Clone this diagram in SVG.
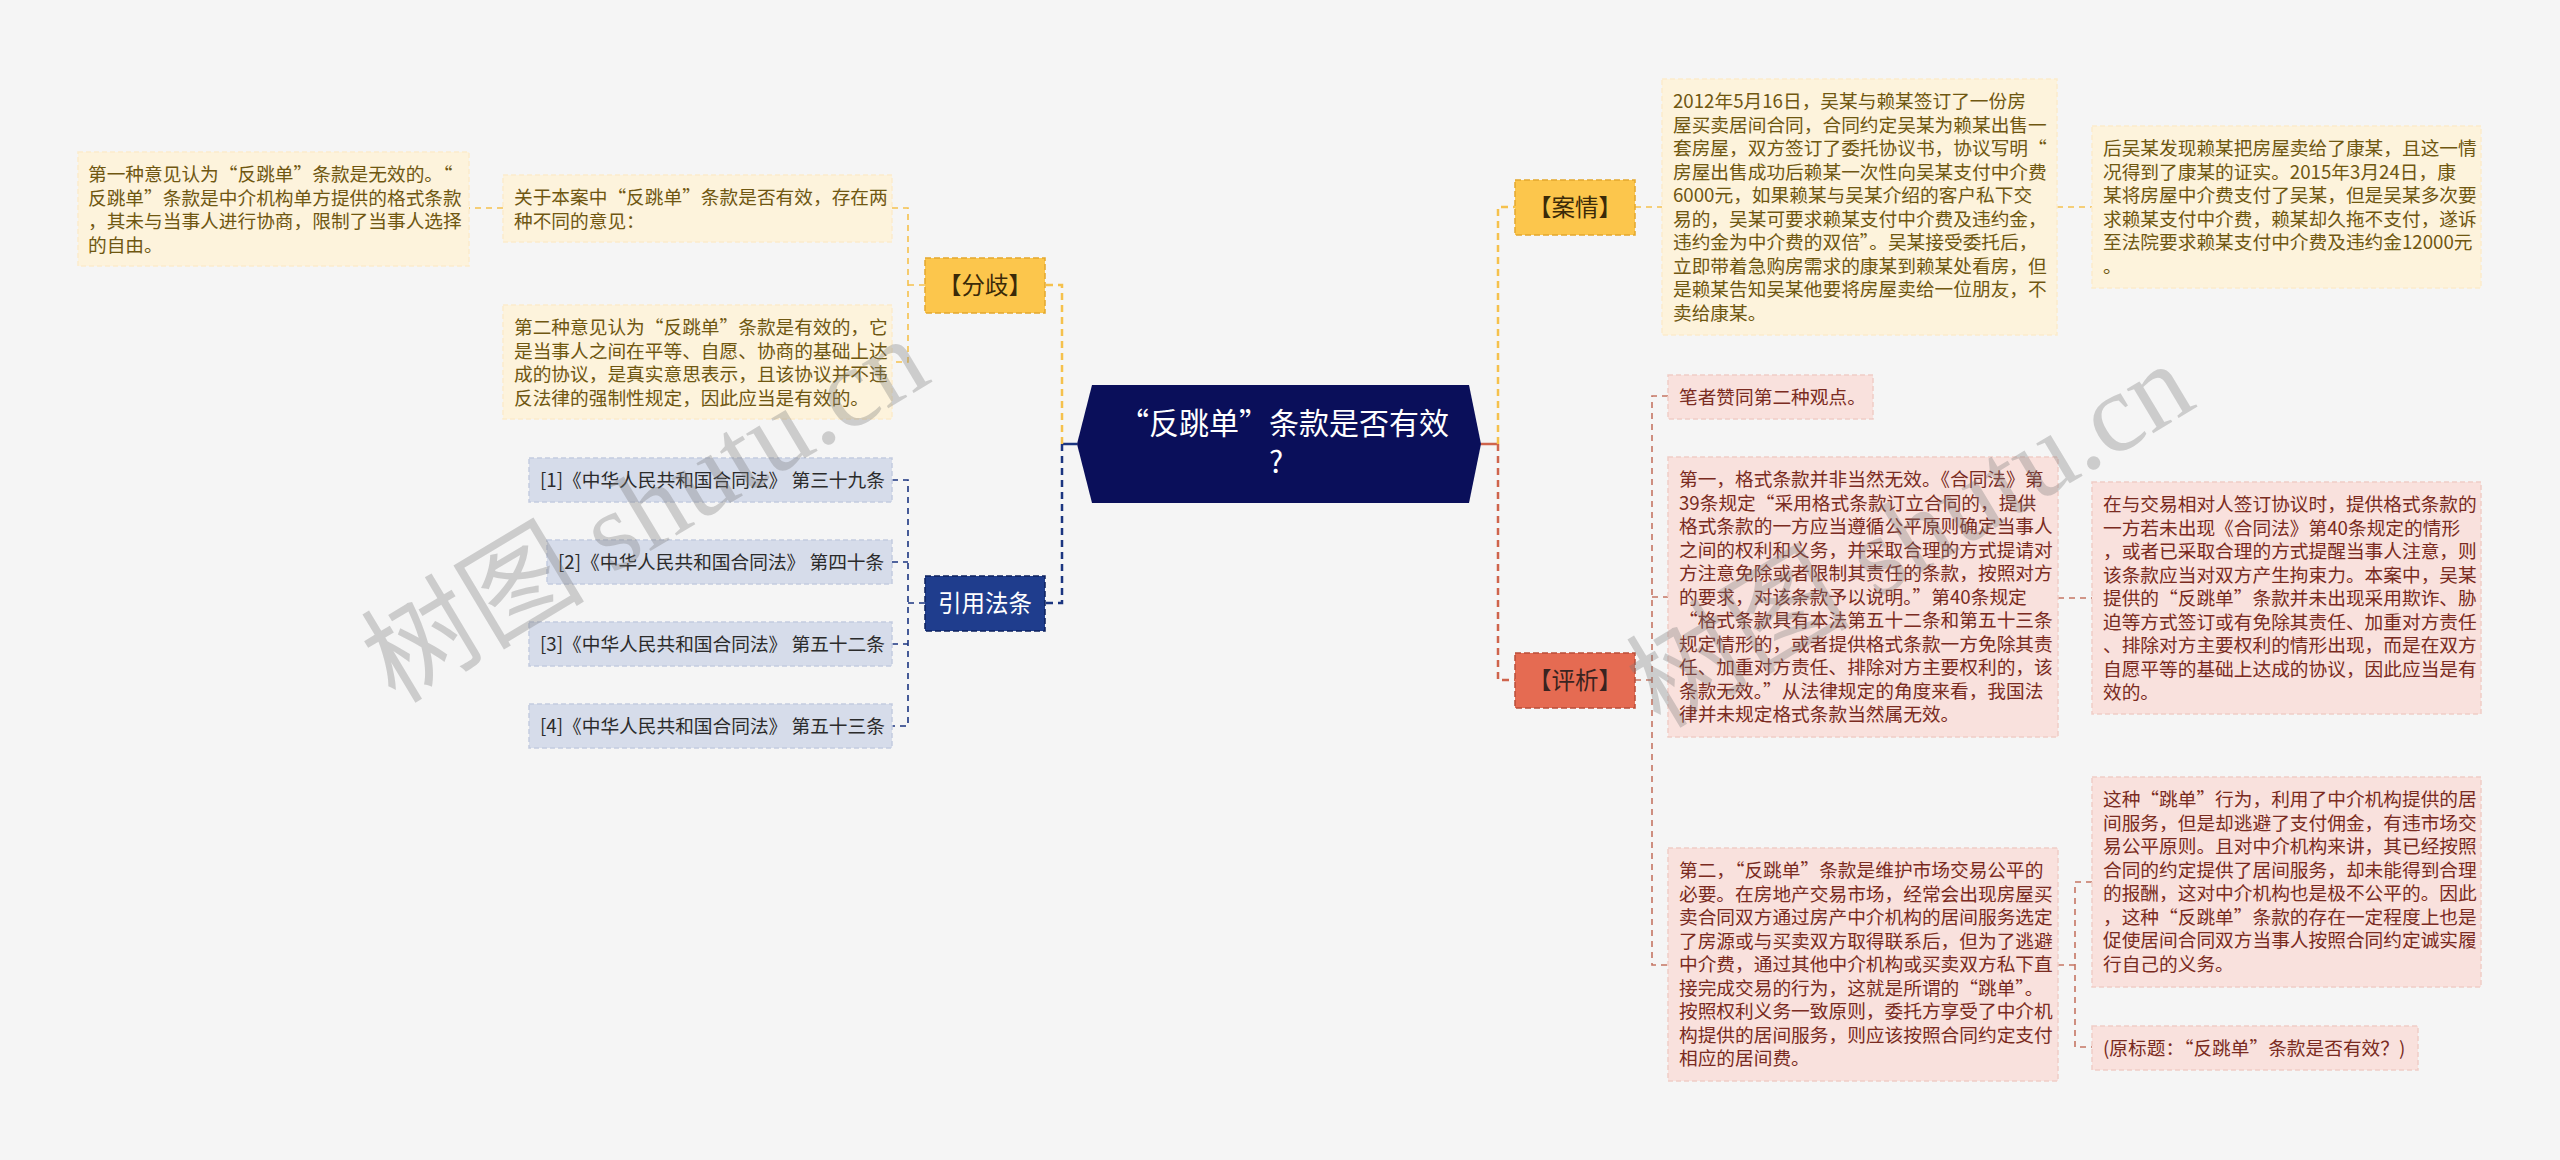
<svg xmlns="http://www.w3.org/2000/svg" width="2560" height="1160" viewBox="0 0 2560 1160">
<style>
text{font-family:"Noto Sans CJK SC","Noto Sans",sans-serif;}
.t{font-size:18.7px;}
.cream rect{fill:#fdf3dc;stroke:#fbeccb;stroke-width:1.5;stroke-dasharray:5 3;}
.cream text{fill:#6f5711;}
.pink rect{fill:#f9e1dd;stroke:#f0cdc6;stroke-width:1.5;stroke-dasharray:5 3;}
.pink text{fill:#7a2b21;}
.law rect{fill:#d6dcea;stroke:#c3cbdf;stroke-width:1.5;stroke-dasharray:5 3;}
.law text{fill:#2b2b2b;}
.br text{font-size:23.5px;text-anchor:middle;}
.yel rect{fill:#fcc64c;stroke:#e3a82c;stroke-width:1.5;stroke-dasharray:6 3;}
.yel text{fill:#3b2a08;}
.red rect{fill:#e56b52;stroke:#b94d38;stroke-width:1.5;stroke-dasharray:6 3;}
.red text{fill:#3a2320;}
.blu rect{fill:#1f3d8d;stroke:#0c205e;stroke-width:1.5;stroke-dasharray:6 3;}
.blu text{fill:#ffffff;}
.c{fill:none;stroke-dasharray:7 5;}
.main{stroke-width:2.5;}
.sub{stroke-width:1.6;stroke-dasharray:6 5;}
.cy{stroke:#f5c14d;}
.cn{stroke:#1b3580;}
.cr{stroke:#cf644c;}
.crs{stroke:#c57563;}
.wm{font-family:"Liberation Serif","Noto Sans CJK SC",serif;font-size:112px;fill:#7a7a7a;fill-opacity:0.33;text-anchor:middle;}
</style>
<rect width="2560" height="1160" fill="#f5f5f5"/>

<g id="connectors">
  <path d="M1077,444 H1062" fill="none" stroke="#1b3580" stroke-width="2.5"/>
  <path class="c main cy" d="M1062,444 V285 H1045"/>
  <path class="c main cn" d="M1062,444 V603 H1045"/>
  <path d="M1481,444 H1498" fill="none" stroke="#cf644c" stroke-width="2.5"/>
  <path class="c main cy" d="M1498,444 V207 H1515"/>
  <path class="c main cr" d="M1498,444 V680 H1515"/>

  <path class="c sub cy" d="M925,285 H908"/>
  <path class="c sub cy" d="M892,208 H908 V362 H892"/>
  <path class="c sub cy" d="M503,208 H469"/>

  <path class="c sub cn" d="M925,603 H908"/>
  <path class="c sub cn" d="M892,480 H908 V726 H892"/>
  <path class="c sub cn" d="M892,562 H908"/>
  <path class="c sub cn" d="M892,644 H908"/>

  <path class="c sub cy" d="M1635,207 H1662"/>
  <path class="c sub cy" d="M2057,207 H2092"/>

  <path class="c sub crs" d="M1635,680 H1652"/>
  <path class="c sub crs" d="M1668,396 H1652 V965 H1668"/>
  <path class="c sub crs" d="M1652,597 H1668"/>
  <path class="c sub crs" d="M2058,598 H2092"/>
  <path class="c sub crs" d="M2058,965 H2075"/>
  <path class="c sub crs" d="M2092,882 H2075 V1047 H2092"/>
</g>

<g id="root">
  <polygon points="1077,444 1092,385 1469,385 1481,444 1469,503 1092,503" fill="#0a0f5a"/>
  <text x="1284" y="434" font-size="30" fill="#ffffff" text-anchor="middle">“反跳单”条款是否有效</text>
  <text x="1276" y="473" font-size="30" fill="#ffffff" text-anchor="middle">?</text>
</g>

<g id="fenqi" class="br yel">
  <rect x="925" y="258" width="120" height="55"/>
  <text x="985" y="294">【分歧】</text>
</g>
<g id="yinyong" class="br blu">
  <rect x="925" y="576" width="120" height="55"/>
  <text x="985" y="612">引用法条</text>
</g>
<g id="anqing" class="br yel">
  <rect x="1515" y="180" width="120" height="55"/>
  <text x="1575" y="216">【案情】</text>
</g>
<g id="pingxi" class="br red">
  <rect x="1515" y="653" width="120" height="55"/>
  <text x="1575" y="689">【评析】</text>
</g>

<g id="opinion-intro" class="cream t">
  <rect x="503" y="175" width="389" height="67"/>
  <text x="514" y="204">关于本案中“反跳单”条款是否有效，存在两</text>
  <text x="514" y="227.5">种不同的意见：</text>
</g>
<g id="opinion-1" class="cream t">
  <rect x="78" y="152" width="391" height="114"/>
  <text x="88" y="181">第一种意见认为“反跳单”条款是无效的。“</text>
  <text x="88" y="204.5">反跳单”条款是中介机构单方提供的格式条款</text>
  <text x="88" y="228">，其未与当事人进行协商，限制了当事人选择</text>
  <text x="88" y="251.5">的自由。</text>
</g>
<g id="opinion-2" class="cream t">
  <rect x="503" y="305" width="389" height="114"/>
  <text x="514" y="334">第二种意见认为“反跳单”条款是有效的，它</text>
  <text x="514" y="357.5">是当事人之间在平等、自愿、协商的基础上达</text>
  <text x="514" y="381">成的协议，是真实意思表示，且该协议并不违</text>
  <text x="514" y="404.5">反法律的强制性规定，因此应当是有效的。</text>
</g>

<g id="law-1" class="law t">
  <rect x="529" y="458" width="363" height="44"/>
  <text x="540" y="487">[1]《中华人民共和国合同法》 第三十九条</text>
</g>
<g id="law-2" class="law t">
  <rect x="547" y="540" width="345" height="44"/>
  <text x="558" y="569">[2]《中华人民共和国合同法》 第四十条</text>
</g>
<g id="law-3" class="law t">
  <rect x="529" y="622" width="363" height="44"/>
  <text x="540" y="651">[3]《中华人民共和国合同法》 第五十二条</text>
</g>
<g id="law-4" class="law t">
  <rect x="529" y="704" width="363" height="44"/>
  <text x="540" y="733">[4]《中华人民共和国合同法》 第五十三条</text>
</g>

<g id="case-1" class="cream t">
  <rect x="1662" y="79" width="395" height="256"/>
  <text x="1673" y="108">2012年5月16日，吴某与赖某签订了一份房</text>
  <text x="1673" y="131.5">屋买卖居间合同，合同约定吴某为赖某出售一</text>
  <text x="1673" y="155">套房屋，双方签订了委托协议书，协议写明“</text>
  <text x="1673" y="178.5">房屋出售成功后赖某一次性向吴某支付中介费</text>
  <text x="1673" y="202">6000元，如果赖某与吴某介绍的客户私下交</text>
  <text x="1673" y="225.5">易的，吴某可要求赖某支付中介费及违约金，</text>
  <text x="1673" y="249">违约金为中介费的双倍”。吴某接受委托后，</text>
  <text x="1673" y="272.5">立即带着急购房需求的康某到赖某处看房，但</text>
  <text x="1673" y="296">是赖某告知吴某他要将房屋卖给一位朋友，不</text>
  <text x="1673" y="319.5">卖给康某。</text>
</g>
<g id="case-2" class="cream t">
  <rect x="2092" y="126" width="389" height="162"/>
  <text x="2103" y="155">后吴某发现赖某把房屋卖给了康某，且这一情</text>
  <text x="2103" y="178.5">况得到了康某的证实。2015年3月24日，康</text>
  <text x="2103" y="202">某将房屋中介费支付了吴某，但是吴某多次要</text>
  <text x="2103" y="225.5">求赖某支付中介费，赖某却久拖不支付，遂诉</text>
  <text x="2103" y="249">至法院要求赖某支付中介费及违约金12000元</text>
  <text x="2103" y="272.5">。</text>
</g>

<g id="view" class="pink t">
  <rect x="1668" y="375" width="205" height="44"/>
  <text x="1679" y="404">笔者赞同第二种观点。</text>
</g>
<g id="first" class="pink t">
  <rect x="1668" y="457" width="390" height="280"/>
  <text x="1679" y="486">第一，格式条款并非当然无效。《合同法》第</text>
  <text x="1679" y="509.5">39条规定“采用格式条款订立合同的，提供</text>
  <text x="1679" y="533">格式条款的一方应当遵循公平原则确定当事人</text>
  <text x="1679" y="556.5">之间的权利和义务，并采取合理的方式提请对</text>
  <text x="1679" y="580">方注意免除或者限制其责任的条款，按照对方</text>
  <text x="1679" y="603.5">的要求，对该条款予以说明。”第40条规定</text>
  <text x="1679" y="627">“格式条款具有本法第五十二条和第五十三条</text>
  <text x="1679" y="650.5">规定情形的，或者提供格式条款一方免除其责</text>
  <text x="1679" y="674">任、加重对方责任、排除对方主要权利的，该</text>
  <text x="1679" y="697.5">条款无效。”从法律规定的角度来看，我国法</text>
  <text x="1679" y="721">律并未规定格式条款当然属无效。</text>
</g>
<g id="first-detail" class="pink t">
  <rect x="2092" y="482" width="389" height="232"/>
  <text x="2103" y="511">在与交易相对人签订协议时，提供格式条款的</text>
  <text x="2103" y="534.5">一方若未出现《合同法》第40条规定的情形</text>
  <text x="2103" y="558">，或者已采取合理的方式提醒当事人注意，则</text>
  <text x="2103" y="581.5">该条款应当对双方产生拘束力。本案中，吴某</text>
  <text x="2103" y="605">提供的“反跳单”条款并未出现采用欺诈、胁</text>
  <text x="2103" y="628.5">迫等方式签订或有免除其责任、加重对方责任</text>
  <text x="2103" y="652">、排除对方主要权利的情形出现，而是在双方</text>
  <text x="2103" y="675.5">自愿平等的基础上达成的协议，因此应当是有</text>
  <text x="2103" y="699">效的。</text>
</g>
<g id="second" class="pink t">
  <rect x="1668" y="848" width="390" height="233"/>
  <text x="1679" y="877">第二，“反跳单”条款是维护市场交易公平的</text>
  <text x="1679" y="900.5">必要。在房地产交易市场，经常会出现房屋买</text>
  <text x="1679" y="924">卖合同双方通过房产中介机构的居间服务选定</text>
  <text x="1679" y="947.5">了房源或与买卖双方取得联系后，但为了逃避</text>
  <text x="1679" y="971">中介费，通过其他中介机构或买卖双方私下直</text>
  <text x="1679" y="994.5">接完成交易的行为，这就是所谓的“跳单”。</text>
  <text x="1679" y="1018">按照权利义务一致原则，委托方享受了中介机</text>
  <text x="1679" y="1041.5">构提供的居间服务，则应该按照合同约定支付</text>
  <text x="1679" y="1065">相应的居间费。</text>
</g>
<g id="second-detail" class="pink t">
  <rect x="2092" y="777" width="389" height="210"/>
  <text x="2103" y="806">这种“跳单”行为，利用了中介机构提供的居</text>
  <text x="2103" y="829.5">间服务，但是却逃避了支付佣金，有违市场交</text>
  <text x="2103" y="853">易公平原则。且对中介机构来讲，其已经按照</text>
  <text x="2103" y="876.5">合同的约定提供了居间服务，却未能得到合理</text>
  <text x="2103" y="900">的报酬，这对中介机构也是极不公平的。因此</text>
  <text x="2103" y="923.5">，这种“反跳单”条款的存在一定程度上也是</text>
  <text x="2103" y="947">促使居间合同双方当事人按照合同约定诚实履</text>
  <text x="2103" y="970.5">行自己的义务。</text>
</g>
<g id="source" class="pink t">
  <rect x="2092" y="1026" width="326" height="44"/>
  <text x="2103" y="1055">(原标题：“反跳单”条款是否有效？)</text>
</g>

<g id="watermark">
  <text class="wm" transform="translate(645,510) rotate(-31)" y="38">树图 shutu.cn</text>
  <text class="wm" transform="translate(1910,535) rotate(-31)" y="38">树图 shutu.cn</text>
</g>
</svg>
